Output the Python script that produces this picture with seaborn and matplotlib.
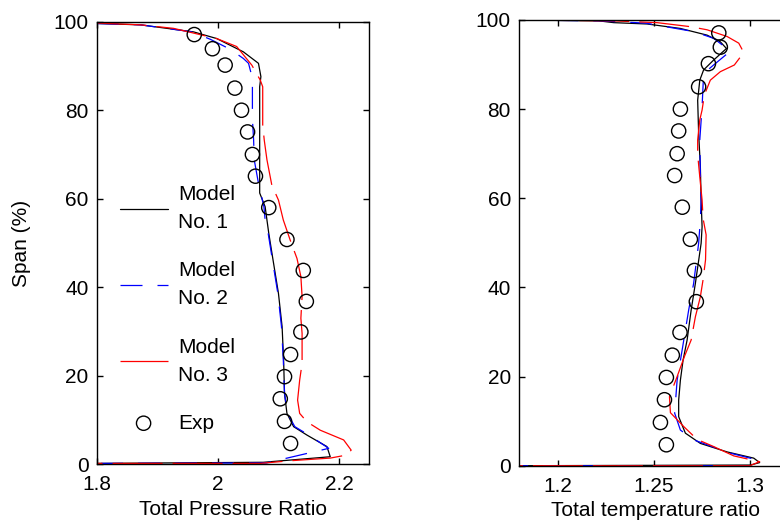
import matplotlib
matplotlib.use("Agg")
import matplotlib.pyplot as plt
import seaborn as sns

# ---------------- data ----------------
exp_span = [97.1, 93.9, 90.2, 85.0, 80.0, 75.1, 70.0, 65.1, 58.0, 50.8, 43.8,
            36.8, 29.9, 24.8, 19.8, 14.8, 9.7, 4.7]
exp_pr = [1.961, 1.991, 2.012, 2.028, 2.039, 2.049, 2.057, 2.062, 2.084, 2.114,
          2.141, 2.146, 2.137, 2.120, 2.110, 2.103, 2.110, 2.120]
exp_tr = [1.2839, 1.2847, 1.2785, 1.2734, 1.2639, 1.2630, 1.2622, 1.2609, 1.2649,
          1.2691, 1.2712, 1.2722, 1.2637, 1.2597, 1.2566, 1.2556, 1.2535, 1.2566]

# Model No. 1 - total pressure ratio
m1_pr_span = [99.6, 99.3, 97.7, 96.2, 93.2, 90.6, 87.6, 85.3, 61.3, 58.2, 52.2,
              46.2, 38.6, 31.1, 23.6, 16.0, 11.5, 8.5, 6.6, 4.0, 1.7, 0.45, 0.2]
m1_pr = [1.80, 1.872, 1.960, 1.998, 2.042, 2.067, 2.071, 2.069, 2.069, 2.078, 2.084,
         2.091, 2.100, 2.106, 2.1085, 2.110, 2.114, 2.125, 2.147, 2.180, 2.1855, 2.075, 1.80]

# Model No. 2 - total pressure ratio
m2_pr_span = [99.6, 99.3, 97.7, 96.0, 93.8, 91.7, 90.6, 87.2, 82.3, 78.0, 73.3, 68.8,
              63.5, 58.2, 55.2, 52.2, 46.2, 38.6, 31.1, 23.6, 16.0, 11.5, 8.5, 6.6,
              3.6, 0.3, 0.2]
m2_pr = [1.80, 1.872, 1.958, 1.988, 2.020, 2.042, 2.0506, 2.057, 2.057, 2.057, 2.059,
         2.060, 2.067, 2.076, 2.078, 2.083, 2.090, 2.099, 2.105, 2.108, 2.110, 2.115,
         2.127, 2.150, 2.183, 2.08, 1.80]

# Model No. 3 - total pressure ratio
m3_pr_span = [99.7, 99.3, 98.5, 96.2, 94.4, 90.2, 86.8, 85.3, 76.7, 73.3, 68.8, 63.1,
              59.7, 55.2, 50.6, 46.5, 42.4, 37.9, 33.0, 29.6, 22.8, 19.0, 14.5, 11.5,
              9.6, 7.7, 5.5, 3.2, 2.1, 1.4, 0.8, 0.2, 0.2]
m3_pr = [1.80, 1.872, 1.927, 1.998, 2.031, 2.056, 2.070, 2.074, 2.074, 2.0765, 2.081,
         2.089, 2.100, 2.108, 2.1195, 2.1306, 2.137, 2.139, 2.137, 2.139, 2.139, 2.135,
         2.1316, 2.135, 2.147, 2.169, 2.2076, 2.220, 2.213, 2.1856, 2.1195, 2.07, 1.80]

# Model No. 1 - total temperature ratio
m1_tr_span = [100, 99.8, 99.4, 99.1, 98.1, 96.6, 95.1, 93.6, 91.0, 88.8, 86.5, 82.0,
              74.6, 67.1, 59.6, 53.6, 49.9, 40.9, 34.9, 28.2, 23.7, 19.2, 14.7, 11.0,
              7.3, 5.0, 3.1, 1.7, 0.7, 0.15, 0.0]
m1_tr = [1.18, 1.2214, 1.2292, 1.2466, 1.2639, 1.2778, 1.2847, 1.2879, 1.2812, 1.2760,
         1.2740, 1.2729, 1.2734, 1.2743, 1.2747, 1.2752, 1.2747, 1.2717, 1.2695, 1.2674,
         1.2653, 1.2639, 1.2630, 1.2630, 1.2665, 1.2743, 1.2882, 1.3021, 1.3052, 1.3004, 1.18]

# Model No. 2 - total temperature ratio
m2_tr_span = [100, 99.8, 99.3, 97.4, 95.9, 93.3, 92.9, 89.9, 88.0, 80.5, 73.1, 65.6,
              59.6, 55.1, 49.9, 40.9, 34.9, 26.7, 19.2, 11.8, 8.0, 5.8, 2.8, 1.3, 0.0, 0.0]
m2_tr = [1.18, 1.2214, 1.2457, 1.2708, 1.2812, 1.2890, 1.2896, 1.2812, 1.2760, 1.2752,
         1.2740, 1.2743, 1.2747, 1.2743, 1.2734, 1.2708, 1.2682, 1.2651, 1.2622, 1.2609,
         1.2639, 1.2708, 1.2900, 1.3039, 1.300, 1.18]

# Model No. 3 - total temperature ratio
m3_tr_span = [100, 99.8, 99.4, 98.5, 97.8, 96.3, 94.8, 92.7, 89.9, 88.4, 86.5, 83.2,
              79.8, 77.6, 73.1, 69.8, 64.8, 59.6, 55.5, 51.8, 46.2, 41.7, 37.9, 33.4,
              28.2, 24.5, 20.0, 15.5, 11.9, 8.8, 5.9, 4.3, 2.2, 0.9, 0.0, 0.0]
m3_tr = [1.18, 1.2292, 1.2518, 1.2691, 1.2778, 1.2882, 1.2943, 1.2969, 1.2920, 1.2847,
         1.2795, 1.2764, 1.2752, 1.2740, 1.2729, 1.2729, 1.2740, 1.2752, 1.2757, 1.2773,
         1.2770, 1.2757, 1.2743, 1.2717, 1.2695, 1.2660, 1.2622, 1.2582, 1.2587, 1.2656,
         1.2726, 1.2812, 1.2917, 1.3052, 1.300, 1.18]

labels = ["Model\nNo. 1", "Model\nNo. 2", "Model\nNo. 3", "Exp"]
y_ticks = [0, 20, 40, 60, 80, 100]
pr_ticks = [1.8, 2.0, 2.2]
pr_ticklabels = ["1.8", "2", "2.2"]
tr_ticks = [1.2, 1.25, 1.3]
tr_ticklabels = ["1.2", "1.25", "1.3"]

# ---------------- style ----------------
sns.set_theme(style="ticks")
plt.rcParams["font.family"] = ["Liberation Sans", "DejaVu Sans"]
plt.rcParams.update({
    "text.color": "black", "axes.labelcolor": "black",
    "xtick.color": "black", "ytick.color": "black",
    "axes.edgecolor": "black", "axes.linewidth": 1.0,
})

LW = 0.9
styles = [
    dict(color="black", linestyle="-"),
    dict(color="#0000ff", linestyle=(0, (17.6, 12))),
    dict(color="#ff0000", linestyle=(0, (40, 8))),
]

fig = plt.figure(figsize=(7.8, 5.3), dpi=100)
axL = fig.add_axes([0.124, 0.124, 0.3495, 0.835])
axR = fig.add_axes([0.6658, 0.1213, 0.3495, 0.841])

series_L = [(m1_pr, m1_pr_span), (m2_pr, m2_pr_span), (m3_pr, m3_pr_span)]
series_R = [(m1_tr, m1_tr_span), (m2_tr, m2_tr_span), (m3_tr, m3_tr_span)]

for ax, series, ex in [(axL, series_L, exp_pr), (axR, series_R, exp_tr)]:
    for (xs, ys), st, lab in zip(series, styles, labels[:3]):
        sns.lineplot(x=xs, y=ys, sort=False, estimator=None, ax=ax, lw=LW,
                     label=lab, **st)
    sns.scatterplot(x=ex, y=exp_span, ax=ax, marker="o", s=105,
                    facecolors="none", edgecolor="black", linewidth=1.0,
                    label="Exp", zorder=5)

axL.set_xlim(1.8, 2.25)
axR.set_xlim(1.18, 1.322)
for ax in (axL, axR):
    ax.set_ylim(0, 100)
    ax.set_yticks(y_ticks)
    ax.tick_params(axis="both", direction="in", length=4, width=1.0,
                   top=True, right=True, labelsize=15)
    ax.tick_params(axis="x", pad=8)
    ax.tick_params(axis="y", pad=6)
    for sp in ax.spines.values():
        sp.set_visible(True)
        sp.set_color("black")

axL.set_xticks(pr_ticks)
axL.set_xticklabels(pr_ticklabels)
axR.set_xticks(tr_ticks)
axR.set_xticklabels(tr_ticklabels)

axL.set_xlabel("Total Pressure Ratio", fontsize=15, labelpad=4)
axR.set_xlabel("Total temperature ratio", fontsize=15, labelpad=4)
axL.set_ylabel("Span (%)", fontsize=15, labelpad=16)

axR.get_legend().remove()
handles, labs = axL.get_legend_handles_labels()
leg = axL.legend(handles, labs, loc="center left", bbox_to_anchor=(0.084, 0.351),
                 frameon=False, fontsize=15, handlelength=2.3, handletextpad=0.5,
                 labelspacing=1.4, borderpad=0, borderaxespad=0)
for t in leg.get_texts():
    t.set_linespacing(1.6)

fig.savefig("out.png", dpi=100)
